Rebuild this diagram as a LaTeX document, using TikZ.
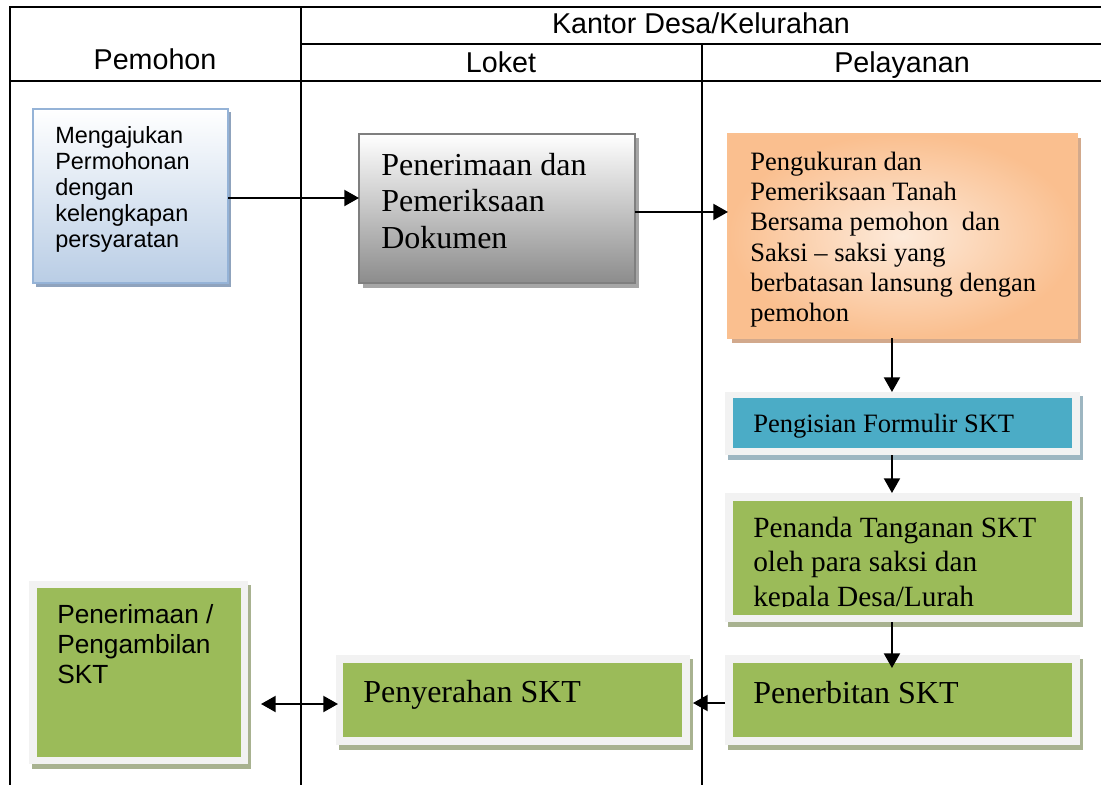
\documentclass[tikz,border=0pt]{standalone}
\usepackage{fontspec}
\setmainfont{Liberation Serif}
\newfontfamily\arialf{Liberation Sans}
\usetikzlibrary{arrows.meta,fit}
\definecolor{bblue}{HTML}{B9CDE5}
\definecolor{bborder}{HTML}{95B3D7}
\definecolor{shblue}{HTML}{8FA3BD}
\definecolor{gbot}{HTML}{8C8C8C}
\definecolor{gborder}{HTML}{7F7F7F}
\definecolor{shgray}{HTML}{A6A6A6}
\definecolor{odark}{HTML}{FABF8F}
\definecolor{olight}{HTML}{FDEADA}
\definecolor{oborder}{HTML}{FAC090}
\definecolor{shorange}{HTML}{D2A98C}
\definecolor{framecol}{HTML}{F2F2F2}
\definecolor{sgreen}{HTML}{9BBB59}
\definecolor{shgreen}{HTML}{A8B290}
\definecolor{sblue}{HTML}{4BACC6}
\definecolor{shcyan}{HTML}{9DB6C1}
\tikzset{
  tbl/.style={line width=1.5pt, black},
  hdr/.style={font=\arialf\fontsize{21.5}{25}\selectfont, inner sep=0},
  boxfit/.style={inner sep=0, outer sep=0},
  framebox/.style={boxfit, fill=framecol},
  txt/.style={inner sep=0, anchor=base west},
  arr/.style={line width=1.5pt, -{Triangle[length=11pt,width=12pt]}},
  arrtwo/.style={line width=1.5pt, {Triangle[length=11pt,width=12pt]}-{Triangle[length=11pt,width=12pt]}}
}
\begin{document}
\begin{tikzpicture}[x=0.75pt,y=-0.75pt]
\useasboundingbox (0,0) rectangle (1101,785);
% table
\draw[tbl] (10,785) -- (10,7) -- (1101,7);
\draw[tbl] (301,7) -- (301,785);
\draw[tbl] (301,44) -- (1101,44);
\draw[tbl] (10,81) -- (1101,81);
\draw[tbl] (702,44) -- (702,785);
\node[hdr, anchor=base] (kantor) at (701,33) {Kantor Desa/Kelurahan};
\node[hdr, anchor=base] (pemohon) at (155,69) {Pemohon};
\node[hdr, anchor=base] (loket) at (501,72) {Loket};
\node[hdr, anchor=base] (pelayanan) at (902,72) {Pelayanan};

% box 1: Mengajukan
\fill[shblue] (36,112) rectangle (231,287);
\node[boxfit, fit={(33,109)(228,283)}, draw=bborder, line width=1.1pt, top color=white, bottom color=bblue] (b1) {};
\node[txt, font=\arialf\fontsize{17.6}{19.6}\selectfont] (b1t) at (55,143)
  {\vtop{\hbox{Mengajukan}\hbox{Permohonan}\hbox{dengan}\hbox{kelengkapan}\hbox{persyaratan}}};

% box 2: Penerimaan dan Pemeriksaan Dokumen
\fill[shgray] (363,138) rectangle (639,288);
\node[boxfit, fit={(359,134)(635,283)}, draw=gborder, line width=1.5pt, top color=white, bottom color=gbot] (b2) {};
\node[txt, font=\fontsize{24}{27.4}\selectfont] (b2t) at (381,175)
  {\vtop{\hbox{Penerimaan dan}\hbox{Pemeriksaan}\hbox{Dokumen}}};

% box 3: orange
\fill[shorange] (732,138) rectangle (1081,343);
\node[boxfit, fit={(728,134)(1077,338)}, draw=oborder, line width=1.1pt, inner color=olight, outer color=odark] (b3) {};
\node[txt, font=\fontsize{19.9}{22.8}\selectfont] (b3t) at (750,170)
  {\vtop{\hbox{Pengukuran dan}\hbox{Pemeriksaan Tanah}\hbox{Bersama pemohon\ \ dan}\hbox{Saksi -- saksi yang}\hbox{berbatasan lansung dengan}\hbox{pemohon}}};

% box 4: Pengisian Formulir SKT
\fill[shcyan] (728,396) rectangle (1083,460);
\node[framebox, fit={(725,392)(1080,455)}] (b4) {};
\node[boxfit, fit={(733,398)(1072,448)}, fill=sblue] (b4in) {};
\node[txt, font=\fontsize{19.9}{22.8}\selectfont] (b4t) at (753,432) {Pengisian Formulir SKT};

% box 5: Penanda Tanganan
\fill[shgreen] (728,497) rectangle (1083,627);
\node[framebox, fit={(725,493)(1080,622)}] (b5) {};
\node[boxfit, fit={(733,501)(1072,615)}, fill=sgreen] (b5in) {};
\begin{scope}
\clip (733,501) rectangle (1072,606);
\node[txt, font=\fontsize{22}{25.9}\selectfont] (b5t) at (753,537)
  {\vtop{\hbox{Penanda Tanganan SKT}\hbox{oleh para saksi dan}\hbox{kepala Desa/Lurah}}};
\end{scope}

% box 6: Penerbitan SKT
\fill[shgreen] (728,659) rectangle (1083,750);
\node[framebox, fit={(725,655)(1080,745)}] (b6) {};
\node[boxfit, fit={(733,663)(1072,737)}, fill=sgreen] (b6in) {};
\node[txt, font=\fontsize{24}{27}\selectfont] (b6t) at (753,703) {Penerbitan SKT};

% box 7: Penyerahan SKT
\fill[shgreen] (339,659) rectangle (693,750);
\node[framebox, fit={(336,655)(690,745)}] (b7) {};
\node[boxfit, fit={(343,663)(682,737)}, fill=sgreen] (b7in) {};
\node[txt, font=\fontsize{24}{27}\selectfont] (b7t) at (363,702) {Penyerahan SKT};

% box 8: Penerimaan / Pengambilan SKT
\fill[shgreen] (32,585) rectangle (251,769);
\node[framebox, fit={(29,581)(248,764)}] (b8) {};
\node[boxfit, fit={(37,588)(241,757)}, fill=sgreen] (b8in) {};
\node[txt, font=\arialf\fontsize{19.7}{22.5}\selectfont] (b8t) at (57,623)
  {\vtop{\hbox{Penerimaan /}\hbox{Pengambilan}\hbox{SKT}}};

% connectors
\coordinate (a1) at ([yshift=-1.5pt]b1.east);
\draw[arr] (a1) -- (a1 -| b2.west);
\coordinate (a2) at ([yshift=-2.6pt]b2.east);
\draw[arr] (a2) -- (a2 -| b3.west);
\coordinate (a3) at ([xshift=-7.9pt]b3.south);
\draw[arr] (a3) -- (a3 |- b4.north);
\coordinate (a4) at ([xshift=-7.9pt]b4.south);
\draw[arr] (a4) -- (a4 |- b5.north);
\coordinate (a5) at ([xshift=-7.9pt]b5.south);
\draw[arr, shorten >=-3.75pt] (a5) -- (a5 |- b6in.north);
\coordinate (a6) at ([yshift=-2.25pt]b6.west);
\draw[arr, shorten >=2.25pt] (a6) -- (a6 -| b7.east);
\coordinate (a7) at ([yshift=-3pt]b7.west);
\draw[arrtwo, shorten <=9.75pt, shorten >=-1.5pt] (a7 -| b8.east) -- (a7);
\end{tikzpicture}
\end{document}
